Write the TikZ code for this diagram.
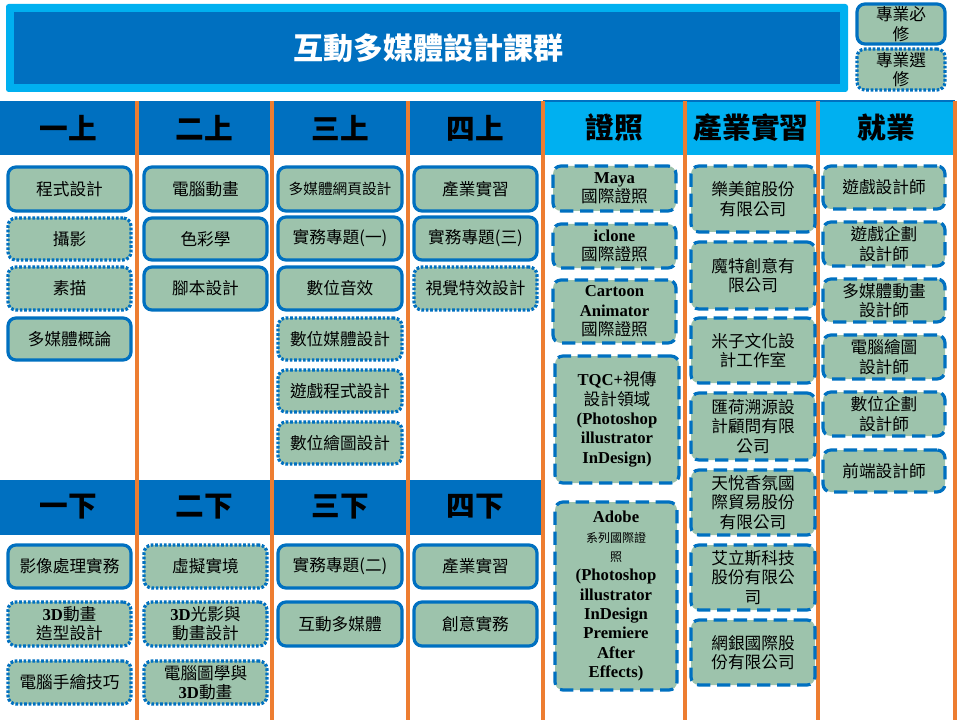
\documentclass[tikz,border=0pt]{standalone}
\usepackage{fontspec}
\setmainfont{Noto Sans CJK TC}
\newfontfamily\latinbf{Liberation Serif}
\definecolor{deepblue}{RGB}{0,112,192}
\definecolor{skyblue}{RGB}{0,176,240}
\definecolor{sage}{RGB}{157,195,172}
\definecolor{rule}{RGB}{237,125,49}
\tikzset{
  course/.style={draw=deepblue, fill=sage, line width=2.4pt, rounded corners=6pt,
    align=center, inner sep=0pt, font=\fontsize{12.5}{14.5}\selectfont},
  must/.style={course},
  pick/.style={course, dash pattern=on 2pt off 1.3pt},
  link/.style={course, dash pattern=on 10pt off 5pt},
  head/.style={inner sep=0pt, font=\fontsize{21.5}{24}\bfseries\selectfont}
}
% box from (x1,y1) to (x2,y2), in pixels
\newcommand{\cbox}[7]{\node[#2, minimum width={(#5-#3)*0.75pt}, minimum height={(#6-#4)*0.75pt}]
  (#1) at ({(#3+#5)/2},{(#4+#6)/2}) {#7};}
\newcommand{\lat}[1]{{\latinbf\bfseries #1}}
\begin{document}
\begin{tikzpicture}[x=0.75pt,y=-0.75pt]
\useasboundingbox (0,0) rectangle (970,727);
% title
\fill[skyblue, rounded corners=2pt] (6,4) rectangle (848,92);
\fill[deepblue] (14,12) rectangle (840,84);
\node[text=white, font=\fontsize{22.5}{24}\bfseries\selectfont] (title) at (428,48) {互動多媒體設計課群};
\cbox{keymust}{must}{857}{4}{945}{44}{專業必\\修}
\cbox{keypick}{pick}{857}{49}{945}{90}{專業選\\修}
% header rows
\fill[deepblue] (0,101) rectangle (543,155);
\fill[deepblue] (0,480) rectangle (543,535);
\fill[skyblue] (543,101) rectangle (955,155);
\draw[deepblue, line width=2pt] (543,101) -- (955,101);
\foreach \x in {137,272,408,543,685,818,955}
  \draw[rule, line width=2.5pt] (\x,101) -- (\x,720);
\foreach \t/\x in {一上/68,二上/204,三上/340,四上/475}
  \node[head] at (\x,128) {\t};
\foreach \t/\x in {一下/68,二下/204,三下/340,四下/475}
  \node[head] at (\x,507) {\t};
\node[head] (cert) at (614,128) {證照};
\node[head] (intern) at (751,128) {產業實習};
\node[head] (job) at (886,128) {就業};
% first year
\cbox{a1}{must}{8}{167}{131}{211}{程式設計}
\cbox{a2}{pick}{8}{218}{131}{260}{攝影}
\cbox{a3}{pick}{8}{267}{131}{310}{素描}
\cbox{a4}{must}{8}{318}{131}{360}{多媒體概論}
\cbox{b1}{must}{144}{167}{267}{211}{電腦動畫}
\cbox{b2}{must}{144}{218}{267}{260}{色彩學}
\cbox{b3}{must}{144}{267}{267}{310}{腳本設計}
\cbox{c1}{must}{278}{167}{402}{211}{\fontsize{11}{13}\selectfont 多媒體網頁設計}
\cbox{c2}{must}{278}{217}{402}{260}{實務專題(一)}
\cbox{c3}{must}{278}{267}{402}{310}{數位音效}
\cbox{c4}{pick}{278}{318}{402}{360}{數位媒體設計}
\cbox{c5}{pick}{278}{370}{402}{412}{遊戲程式設計}
\cbox{c6}{pick}{278}{422}{402}{464}{數位繪圖設計}
\cbox{d1}{must}{414}{167}{537}{211}{產業實習}
\cbox{d2}{must}{414}{217}{537}{260}{實務專題(三)}
\cbox{d3}{pick}{414}{267}{537}{310}{視覺特效設計}
% second term
\cbox{e1}{must}{8}{545}{131}{588}{影像處理實務}
\cbox{e2}{pick}{8}{602}{131}{646}{\lat{3D}動畫\\造型設計}
\cbox{e3}{pick}{8}{661}{131}{704}{電腦手繪技巧}
\cbox{f1}{pick}{144}{545}{267}{588}{虛擬實境}
\cbox{f2}{pick}{144}{602}{267}{646}{\lat{3D}光影與\\動畫設計}
\cbox{f3}{pick}{144}{661}{267}{704}{電腦圖學與\\\lat{3D}動畫}
\cbox{g1}{must}{278}{545}{402}{588}{實務專題(二)}
\cbox{g2}{must}{278}{602}{402}{646}{互動多媒體}
\cbox{h1}{must}{414}{545}{537}{588}{產業實習}
\cbox{h2}{must}{414}{602}{537}{646}{創意實務}
% certificates
\cbox{p1}{link}{553}{166}{676}{211}{\lat{Maya}\\國際證照}
\cbox{p2}{link}{553}{224}{676}{268}{\lat{iclone}\\國際證照}
\cbox{p3}{link}{553}{280}{676}{343}{\lat{Cartoon}\\\lat{Animator}\\國際證照}
\cbox{p4}{link}{555}{356}{679}{483}{\lat{TQC+}視傳\\設計領域\\\lat{(Photoshop}\\\lat{illustrator}\\\lat{InDesign)}}
\cbox{p5}{link}{555}{502}{677}{690}{\lat{Adobe}\\{\small 系列國際證}\\{\small 照}\\\lat{(Photoshop}\\\lat{illustrator}\\\lat{InDesign}\\\lat{Premiere}\\\lat{After}\\\lat{Effects)}}
% internships
\cbox{q1}{link}{691}{166}{815}{232}{樂美館股份\\有限公司}
\cbox{q2}{link}{691}{242}{815}{309}{魔特創意有\\限公司}
\cbox{q3}{link}{691}{318}{815}{383}{米子文化設\\計工作室}
\cbox{q4}{link}{691}{393}{815}{460}{匯荷溯源設\\計顧問有限\\公司}
\cbox{q5}{link}{691}{470}{815}{535}{天悅香氛國\\際貿易股份\\有限公司}
\cbox{q6}{link}{691}{545}{815}{610}{艾立斯科技\\股份有限公\\司}
\cbox{q7}{link}{691}{620}{815}{685}{網銀國際股\\份有限公司}
% jobs
\cbox{r1}{link}{823}{166}{945}{209}{遊戲設計師}
\cbox{r2}{link}{823}{222}{945}{266}{遊戲企劃\\設計師}
\cbox{r3}{link}{823}{279}{945}{322}{多媒體動畫\\設計師}
\cbox{r4}{link}{823}{335}{945}{379}{電腦繪圖\\設計師}
\cbox{r5}{link}{823}{392}{945}{436}{數位企劃\\設計師}
\cbox{r6}{link}{823}{450}{945}{492}{前端設計師}
\end{tikzpicture}
\end{document}
